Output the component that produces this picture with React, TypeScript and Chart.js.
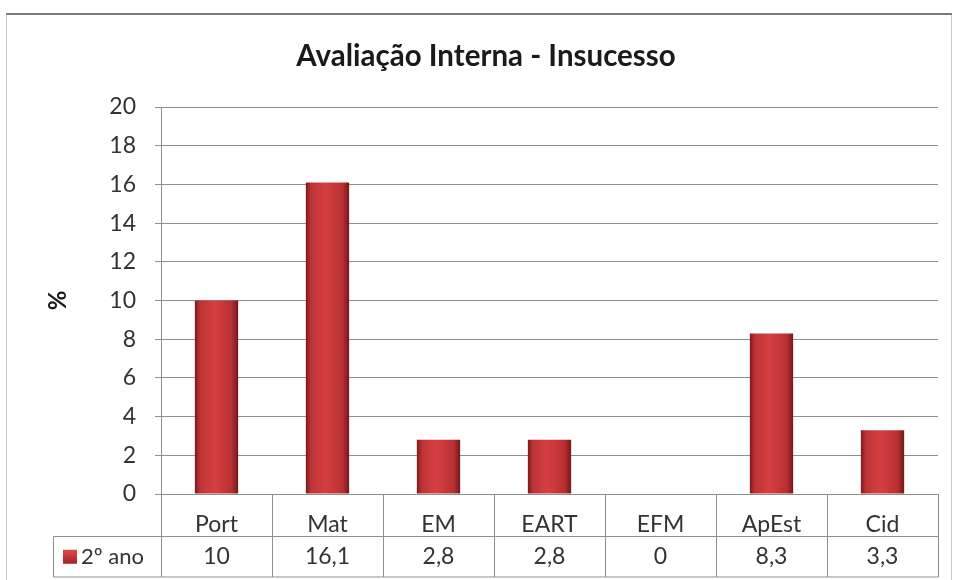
import React, { useEffect, useRef } from "react";
import { Chart, registerables } from "chart.js";

Chart.register(...registerables);

const TITLE = "Avaliação Interna - Insucesso";
const categories = ["Port", "Mat", "EM", "EART", "EFM", "ApEst", "Cid"];
const seriesName = "2º ano";
const values = [10, 16.1, 2.8, 2.8, 0, 8.3, 3.3];
const yTicks = [0, 2, 4, 6, 8, 10, 12, 14, 16, 18, 20];
const yAxisTitle = "%";

const FONT = "Lato, 'Open Sans', 'DejaVu Sans', sans-serif";
const TEXT = "#333333";
const GRID = "#8f8f8f";
const BAR_PCT = 0.39;
const FS = 23;
const PAD_L = 34;

const fmt = (v: number) => String(v).replace(".", ",");

const tablePlugin = {
  id: "dataTable",
  beforeDraw(chart: any) {
    const { ctx, width, height } = chart;
    ctx.save();
    ctx.fillStyle = "#ffffff";
    ctx.fillRect(0, 0, width, height);
    ctx.strokeStyle = "#c8c8c8";
    ctx.lineWidth = 1;
    ctx.beginPath();
    ctx.moveTo(6.5, 14);
    ctx.lineTo(6.5, height);
    ctx.moveTo(951.5, 14);
    ctx.lineTo(951.5, height);
    ctx.stroke();
    ctx.strokeStyle = "#7a7a7a";
    ctx.lineWidth = 2;
    ctx.beginPath();
    ctx.moveTo(6, 14);
    ctx.lineTo(952, 14);
    ctx.stroke();
    ctx.restore();
  },
  afterDraw(chart: any) {
    const { ctx, chartArea, scales } = chart;
    const x = scales.x;
    const n = categories.length;
    const catW = (chartArea.right - chartArea.left) / n;
    const top = chartArea.bottom;
    const mid = top + 42.5;
    const bot = top + 83;
    const legLeft = 53.5;
    ctx.save();
    ctx.strokeStyle = GRID;
    ctx.lineWidth = 1;
    ctx.beginPath();
    for (let i = 0; i <= n; i++) {
      const px = Math.round(chartArea.left + i * catW) + 0.5;
      ctx.moveTo(px, top);
      ctx.lineTo(px, bot);
    }
    ctx.moveTo(legLeft, mid);
    ctx.lineTo(chartArea.right, mid);
    ctx.moveTo(legLeft, bot);
    ctx.lineTo(chartArea.right, bot);
    ctx.moveTo(legLeft, mid);
    ctx.lineTo(legLeft, bot);
    ctx.stroke();

    const rowY = (mid + bot) / 2;
    ctx.font = `${FS}px ${FONT}`;
    ctx.fillStyle = TEXT;
    ctx.textAlign = "center";
    ctx.textBaseline = "middle";
    values.forEach((v, i) => {
      ctx.fillText(fmt(v), x.getPixelForValue(i), rowY);
    });
    const g = ctx.createLinearGradient(0, rowY - 7, 0, rowY + 7);
    g.addColorStop(0, "#e04a4a");
    g.addColorStop(1, "#a02426");
    ctx.fillStyle = g;
    ctx.fillRect(63, rowY - 7, 14, 14);
    ctx.fillStyle = TEXT;
    ctx.textAlign = "left";
    ctx.font = `22px ${FONT}`;
    ctx.fillText(seriesName, 81, rowY);
    ctx.restore();
  },
};

export default function App() {
  const ref = useRef<HTMLCanvasElement | null>(null);
  useEffect(() => {
    if (!ref.current) return;
    const chart = new Chart(ref.current, {
      type: "bar",
      data: {
        labels: categories,
        datasets: [
          {
            label: seriesName,
            data: values,
            categoryPercentage: 1,
            barPercentage: BAR_PCT,
            borderWidth: 0,
            backgroundColor: (c: any) => {
              const chart = c.chart;
              const sx = chart.scales && chart.scales.x;
              if (!chart.chartArea || !sx) return "#c0373a";
              const cx = sx.getPixelForValue(c.dataIndex);
              const w = (sx.width / categories.length) * BAR_PCT;
              const g = chart.ctx.createLinearGradient(cx - w / 2, 0, cx + w / 2, 0);
              g.addColorStop(0, "#7c1a1b");
              g.addColorStop(0.12, "#bd3437");
              g.addColorStop(0.45, "#d63f41");
              g.addColorStop(0.85, "#b83033");
              g.addColorStop(1, "#761718");
              return g;
            },
          },
        ],
      },
      plugins: [tablePlugin],
      options: {
        responsive: false,
        animation: false,
        devicePixelRatio: 1,
        layout: { padding: { left: PAD_L, right: 17, top: 0, bottom: 0 } },
        plugins: {
          legend: { display: false },
          tooltip: { enabled: false },
          title: {
            display: true,
            text: TITLE,
            color: "#1a1a1a",
            font: { family: FONT, size: 29.5, weight: "bold", lineHeight: 1.2 },
            padding: { top: 39, bottom: 32.6 },
          },
        },
        scales: {
          x: {
            type: "category",
            offset: true,
            grid: { display: false },
            border: { display: true, color: GRID, width: 1 },
            ticks: {
              color: TEXT,
              font: { family: FONT, size: FS },
              padding: 9,
              maxRotation: 0,
            },
            afterFit: (s: any) => {
              s.height = 86;
            },
          },
          y: {
            min: 0,
            max: 20,
            afterBuildTicks: (s: any) => {
              s.ticks = yTicks.map((v) => ({ value: v }));
            },
            grid: { color: GRID, lineWidth: 1, tickLength: 6 },
            border: { display: true, color: GRID, width: 1 },
            ticks: {
              color: TEXT,
              font: { family: FONT, size: FS },
              padding: 19,
            },
            title: {
              display: true,
              text: yAxisTitle,
              color: "#1a1a1a",
              font: { family: FONT, size: 24, weight: "bold", lineHeight: 1.2 },
              padding: { top: 44 - PAD_L, bottom: 0 },
            },
            afterFit: (s: any) => {
              s.width = 161 - PAD_L;
            },
          },
        },
      },
    });
    return () => chart.destroy();
  }, []);
  return (
    <div style={{ position: "absolute", left: 0, top: 0, width: 955, height: 580 }}>
      <canvas ref={ref} width={955} height={580} />
    </div>
  );
}
